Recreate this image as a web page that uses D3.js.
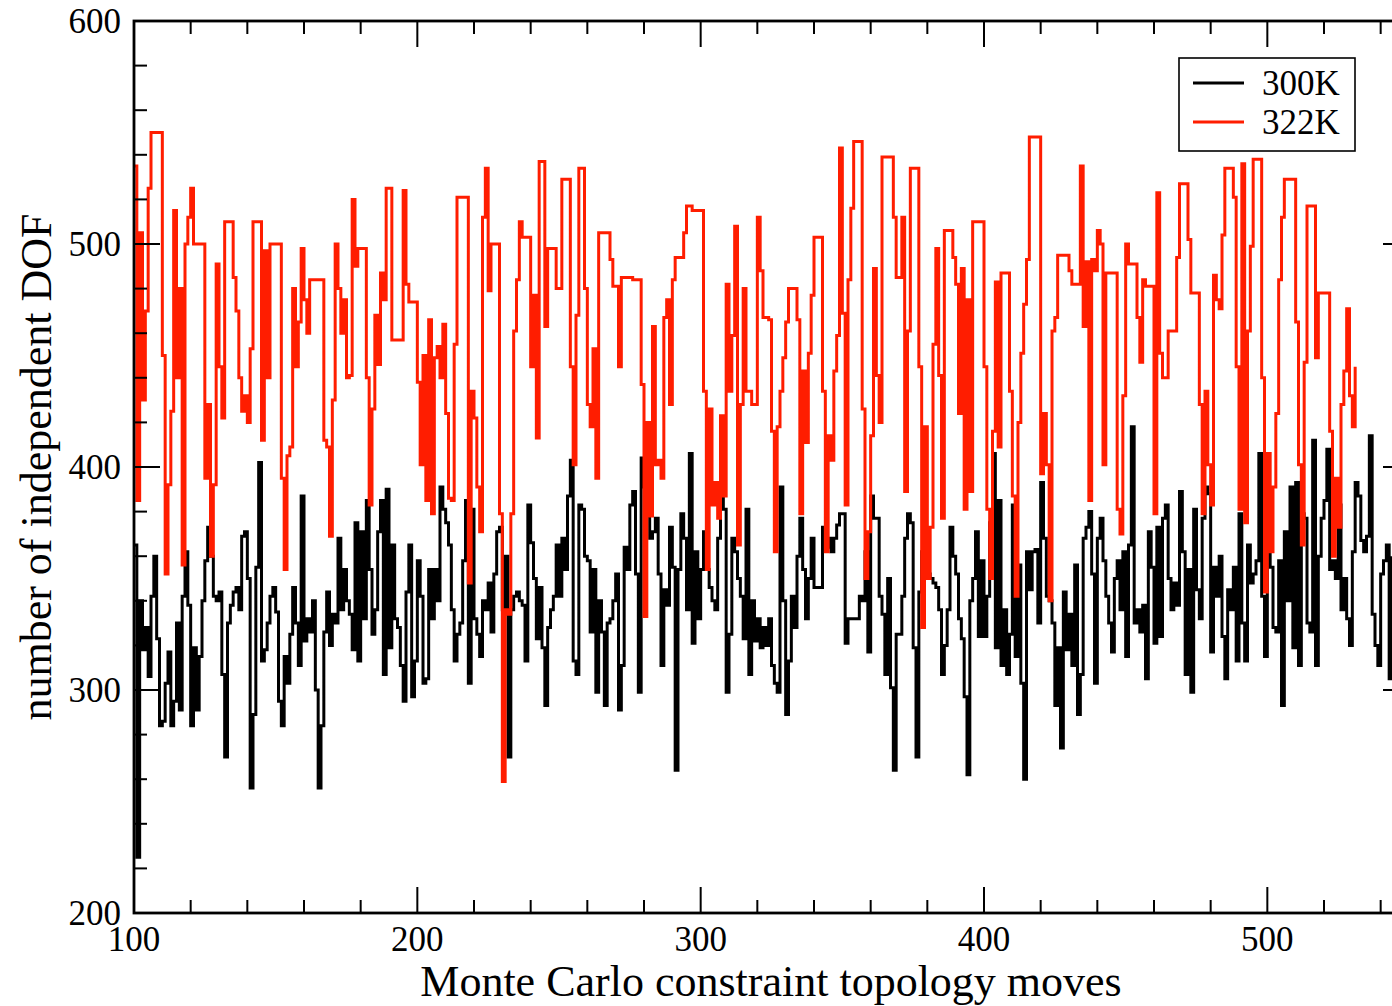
<!DOCTYPE html>
<html>
<head>
<meta charset="utf-8">
<script src="https://cdn.jsdelivr.net/npm/d3@7"></script>
<style>
  body { margin: 0; background: #fff; }
  svg { display: block; }
</style>
</head>
<body>
<svg id="chart"></svg>
<script>
//x value of the first sample, one sample per move
const xStart = 100;

//number of independent DOF, 300K run (x = 100 .. 544)
const dof300K = [
  365, 225, 340, 318, 328, 306, 342, 360, 323, 284, 286, 303, 317, 284, 295, 330, 291, 342, 362, 338,
  284, 319, 291, 315, 340, 358, 373, 360, 342, 340, 344, 307, 270, 330, 338, 344, 346, 336, 369, 371,
  350, 256, 289, 355, 402, 313, 318, 330, 342, 346, 335, 295, 284, 315, 303, 325, 346, 330, 311, 387,
  322, 332, 326, 340, 300, 256, 284, 326, 344, 320, 334, 330, 368, 336, 354, 340,
  334, 318, 375, 313, 371, 332, 385, 354, 325, 336, 371, 385, 307, 390, 319, 365, 332, 328, 311, 295,
  344, 365, 297, 313, 358, 342, 303, 305, 354, 332, 354, 340, 391, 381, 375, 365, 336, 313, 325, 330,
  358, 385, 303, 381, 332, 325, 315, 340, 336, 348, 326, 352, 371, 373, 336, 360, 270, 336, 342, 344,
  340, 338, 313, 383, 366, 350, 323, 346, 319, 293, 328, 336, 342, 365,
  342, 368, 354, 387, 403, 313, 307, 383, 381, 360, 358, 326, 354, 299, 340, 326, 293, 330, 332, 340,
  352, 291, 311, 364, 354, 383, 389, 352, 299, 404, 391, 378, 368, 371, 377, 352, 311, 345, 338, 373,
  355, 264, 354, 379, 368, 336, 406, 321, 362, 332, 354, 371, 354, 346, 340, 336, 368, 387, 381, 299,
  325, 368, 362, 350, 342, 323, 381, 307, 340, 322, 332, 319, 328, 320,
  332, 311, 303, 299, 391, 340, 289, 313, 342, 328, 360, 377, 354, 332, 350, 368, 346, 346, 346, 373,
  364, 368, 362, 368, 374, 379, 379, 321, 332, 332, 332, 332, 342, 340, 362, 317, 387, 377, 377, 342,
  334, 307, 350, 301, 264, 325, 325, 342, 368, 379, 375, 319, 270, 344, 362, 364, 352, 350, 348, 346,
  336, 307, 320, 336, 373, 360, 352, 332, 323, 297, 262, 340, 350, 371,
  324, 358, 324, 342, 375, 406, 319, 385, 311, 336, 307, 325, 383, 315, 356, 303, 260, 362, 345, 362,
  363, 330, 393, 368, 342, 340, 330, 293, 319, 274, 344, 318, 334, 311, 356, 289, 307, 368, 373, 380,
  352, 303, 368, 377, 358, 342, 330, 317, 350, 358, 336, 362, 315, 365, 418, 330, 336, 326, 338, 305,
  371, 355, 321, 373, 324, 377, 383, 350, 336, 348, 338, 389, 362, 307,
  354, 299, 381, 345, 332, 377, 391, 388, 317, 355, 342, 360, 324, 305, 345, 336, 355, 313, 379, 330,
  313, 365, 348, 352, 358, 406, 342, 315, 369, 355, 328, 326, 358, 293, 371, 340, 391, 319, 393, 311,
  379, 377, 330, 326, 412, 311, 360, 377, 385, 408, 354, 358, 350, 383, 336, 350, 332, 320, 362, 393,
  387, 367, 362, 369, 414, 334, 320, 311, 352, 358, 365, 305, 360
];

//number of independent DOF, 322K run (x = 100 .. 531)
const dof322K = [
  535, 385, 505, 430, 470, 525, 550, 550, 550, 550, 450, 352, 392, 425, 515, 440, 480, 356, 500, 512,
  525, 500, 500, 500, 500, 395, 428, 360, 392, 491, 445, 422, 510, 510, 510, 485, 470, 440, 425, 432,
  420, 453, 510, 510, 510, 412, 497, 440, 500, 500, 500, 500, 395, 354, 405, 409, 480, 445, 465, 498,
  475, 460, 484, 484, 484, 484, 484, 412, 409, 369, 430, 500, 480, 460, 475, 440,
  441, 520, 490, 498, 498, 498, 440, 383, 426, 468, 446, 487, 475, 525, 525, 457, 457, 457, 457, 524,
  482, 474, 474, 474, 438, 401, 450, 385, 466, 379, 449, 454, 440, 464, 424, 386, 385, 455, 521, 521,
  521, 521, 348, 434, 422, 391, 371, 512, 534, 479, 500, 500, 500, 379, 259, 336, 334, 379, 461, 484,
  510, 503, 503, 503, 445, 477, 413, 537, 537, 463, 498, 498, 498, 480,
  480, 529, 529, 529, 445, 401, 468, 534, 534, 480, 428, 418, 453, 395, 505, 505, 505, 505, 493, 481,
  481, 445, 485, 485, 485, 485, 484, 484, 484, 437, 333, 420, 378, 463, 401, 403, 395, 467, 475, 428,
  484, 494, 494, 494, 505, 517, 517, 515, 515, 515, 515, 434, 354, 426, 383, 393, 377, 423, 387, 482,
  434, 459, 508, 365, 428, 480, 434, 434, 428, 428, 512, 488, 467, 467,
  466, 416, 362, 418, 434, 449, 465, 480, 480, 480, 466, 379, 443, 411, 451, 477, 503, 503, 503, 434,
  362, 414, 403, 443, 459, 543, 469, 383, 484, 516, 546, 546, 546, 426, 350, 371, 414, 489, 441, 420,
  539, 539, 539, 539, 512, 485, 485, 512, 389, 461, 534, 534, 534, 445, 328, 418, 350, 373, 455, 498,
  441, 377, 506, 506, 506, 494, 482, 424, 489, 381, 475, 389, 510, 510,
  510, 510, 445, 381, 350, 416, 483, 409, 487, 487, 487, 434, 387, 342, 420, 451, 473, 493, 548, 548,
  548, 548, 397, 424, 401, 340, 461, 467, 495, 495, 495, 495, 488, 482, 482, 482, 535, 463, 492, 385,
  493, 488, 506, 500, 401, 487, 487, 487, 487, 381, 370, 432, 500, 491, 491, 491, 467, 447, 484, 481,
  481, 481, 379, 523, 451, 440, 440, 461, 461, 461, 494, 527, 527, 527,
  502, 478, 478, 478, 428, 379, 434, 401, 383, 486, 475, 471, 504, 534, 534, 534, 521, 445, 381, 536,
  375, 461, 499, 538, 538, 538, 440, 344, 406, 362, 391, 424, 484, 512, 529, 529, 529, 529, 465, 401,
  365, 447, 517, 517, 517, 449, 478, 478, 478, 478, 416, 360, 395, 373, 428, 443, 471, 432, 418, 445
];

const seriesNames = ["300K", "322K"];
const seriesColors = ["#000000", "#ff1d00"];
const xMajorTicks = [100, 200, 300, 400, 500];
const yMajorTicks = [200, 300, 400, 500, 600];

//layout
const width = 1392;
const height = 1006;
const plot = { left: 134, top: 21, right: 1409, bottom: 913 };
const font = "'Liberation Serif', 'Times New Roman', serif";

const svg = d3.select("#chart")
  .attr("width", width)
  .attr("height", height)
  .attr("viewBox", [0, 0, width, height]);

svg.append("rect").attr("width", width).attr("height", height).attr("fill", "#fff");

//scales (the frame runs to 550, past the right edge of the picture)
const x = d3.scaleLinear().domain([100, 550]).range([plot.left, plot.right]);
const y = d3.scaleLinear().domain([200, 600]).range([plot.bottom, plot.top]);

svg.append("clipPath").attr("id", "plotClip")
  .append("rect")
  .attr("x", plot.left).attr("y", plot.top)
  .attr("width", plot.right - plot.left).attr("height", plot.bottom - plot.top);

//step lines
const line = d3.line()
  .x((d, i) => x(xStart + i))
  .y(d => y(d))
  .curve(d3.curveStepAfter);

svg.append("g")
  .attr("clip-path", "url(#plotClip)")
  .selectAll("path")
  .data([dof300K, dof322K])
  .join("path")
  .attr("d", line)
  .attr("fill", "none")
  .attr("stroke", (d, i) => seriesColors[i])
  .attr("stroke-width", 3)
  .attr("stroke-linejoin", "miter");

//ticks, drawn inward on all four sides
const xMinor = d3.range(100, 551, 20).filter(v => !xMajorTicks.includes(v));
const yMinor = d3.range(200, 601, 20).filter(v => !yMajorTicks.includes(v));
const ticks = svg.append("g").attr("stroke", "#000").attr("stroke-width", 2);

[[xMajorTicks, 26], [xMinor, 13]].forEach(([vals, len]) => {
  ticks.selectAll(null).data(vals).join("line")
    .attr("x1", d => x(d)).attr("x2", d => x(d))
    .attr("y1", plot.bottom).attr("y2", plot.bottom - len);
  ticks.selectAll(null).data(vals).join("line")
    .attr("x1", d => x(d)).attr("x2", d => x(d))
    .attr("y1", plot.top).attr("y2", plot.top + len);
});
[[yMajorTicks, 26], [yMinor, 13]].forEach(([vals, len]) => {
  ticks.selectAll(null).data(vals).join("line")
    .attr("y1", d => y(d)).attr("y2", d => y(d))
    .attr("x1", plot.left).attr("x2", plot.left + len);
  ticks.selectAll(null).data(vals).join("line")
    .attr("y1", d => y(d)).attr("y2", d => y(d))
    .attr("x1", plot.right).attr("x2", plot.right - len);
});

//frame
svg.append("rect")
  .attr("x", plot.left).attr("y", plot.top)
  .attr("width", plot.right - plot.left).attr("height", plot.bottom - plot.top)
  .attr("fill", "none")
  .attr("stroke", "#000")
  .attr("stroke-width", 2.8);

//tick labels
svg.append("g")
  .style("font", `35px ${font}`)
  .attr("text-anchor", "middle")
  .selectAll("text")
  .data(xMajorTicks)
  .join("text")
  .attr("x", d => x(d))
  .attr("y", 951)
  .text(d => d);

svg.append("g")
  .style("font", `35px ${font}`)
  .attr("text-anchor", "end")
  .selectAll("text")
  .data(yMajorTicks)
  .join("text")
  .attr("x", 121)
  .attr("y", d => y(d) + 12)
  .text(d => d);

//axis titles
svg.append("text")
  .attr("x", 771)
  .attr("y", 996)
  .attr("text-anchor", "middle")
  .style("font", `44px ${font}`)
  .text("Monte Carlo constraint topology moves");

svg.append("text")
  .attr("transform", "translate(51,467) rotate(-90)")
  .attr("text-anchor", "middle")
  .style("font", `44px ${font}`)
  .text("number of independent DOF");

//legend
const legend = svg.append("g");
legend.append("rect")
  .attr("x", 1179).attr("y", 58)
  .attr("width", 176).attr("height", 93)
  .attr("fill", "#fff")
  .attr("stroke", "#000")
  .attr("stroke-width", 1.6);

const legItems = legend.selectAll("g")
  .data(seriesNames)
  .join("g")
  .attr("transform", (d, i) => `translate(0,${83 + i * 39})`);
legItems.append("line")
  .attr("x1", 1193).attr("x2", 1244)
  .attr("stroke", (d, i) => seriesColors[i])
  .attr("stroke-width", 3);
legItems.append("text")
  .attr("x", 1262)
  .attr("y", 12)
  .style("font", `35px ${font}`)
  .text(d => d);
</script>
</body>
</html>
